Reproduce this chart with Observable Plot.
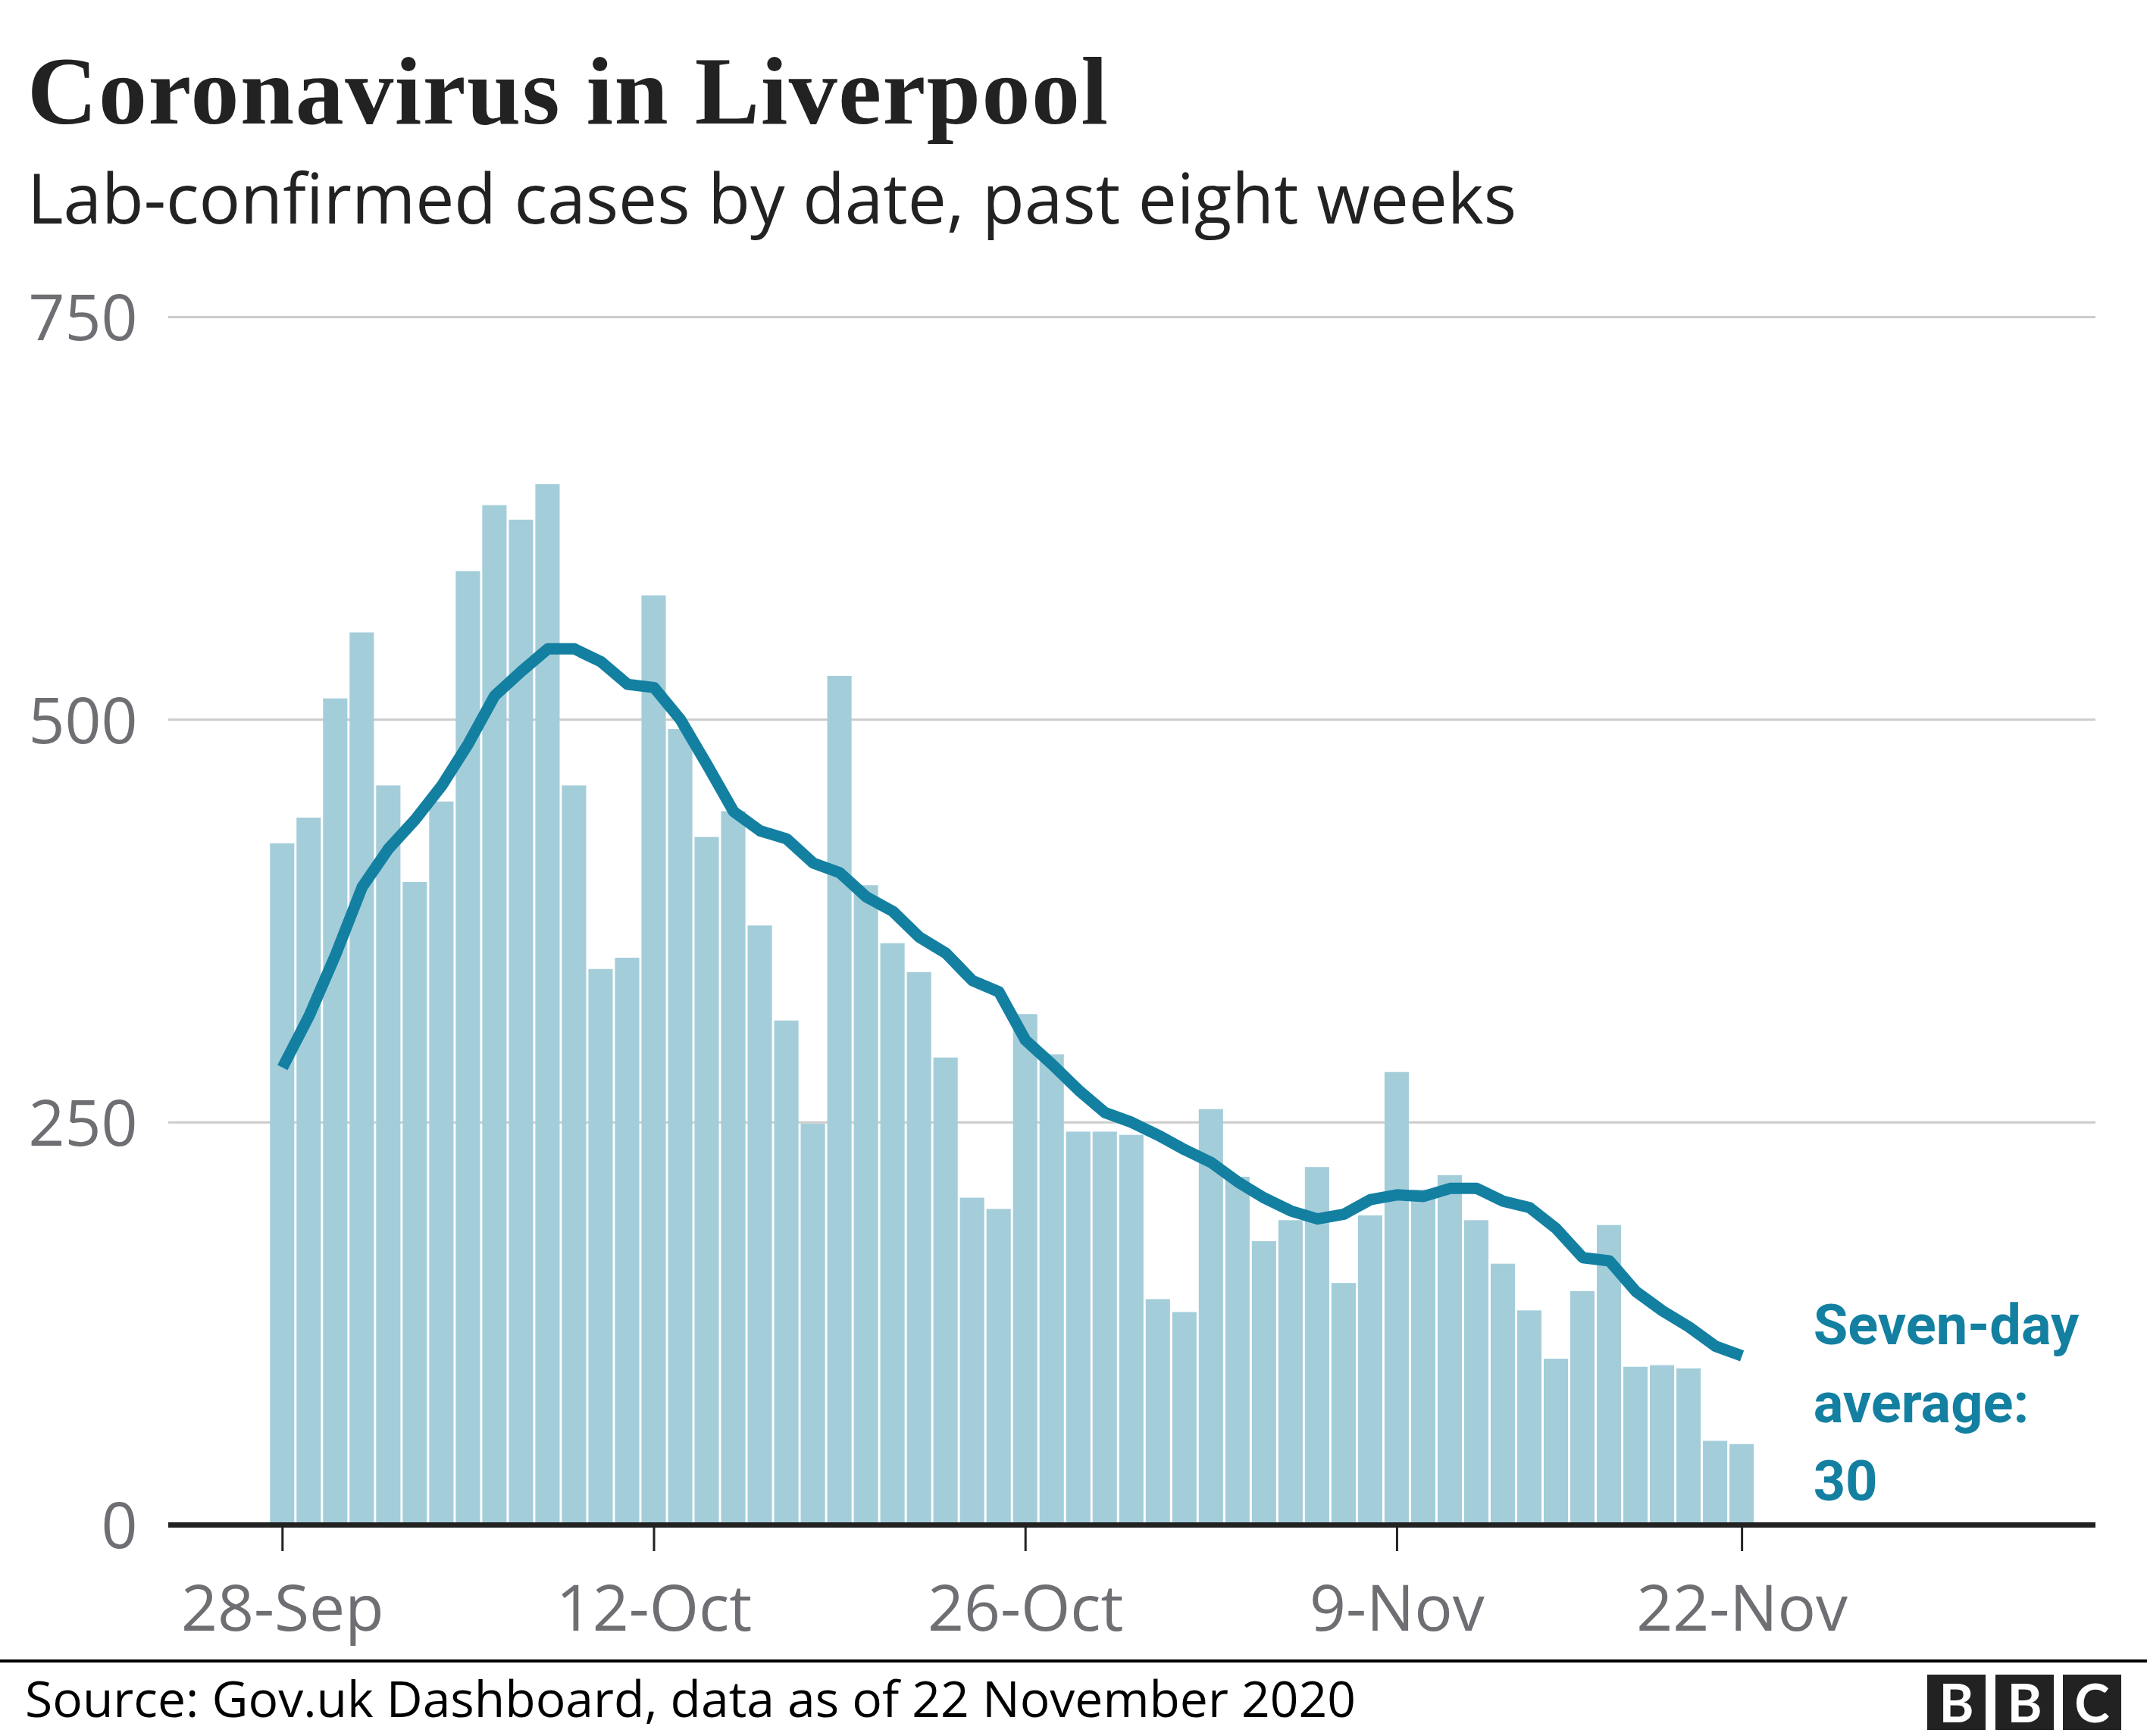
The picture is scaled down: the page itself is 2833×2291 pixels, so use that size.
<!DOCTYPE html>
<html>
<head>
<meta charset="utf-8">
<script src="https://cdn.jsdelivr.net/npm/d3@7"></script>
<script src="https://cdn.jsdelivr.net/npm/@observablehq/plot@0.6"></script>
<style>
  html, body { margin: 0; padding: 0; background: #fff; }
  #page { position: relative; width: 2833px; height: 2291px; overflow: hidden; background: #fff; }
  #title { position: absolute; left: 36px; top: 56px; font-family: "Liberation Serif", serif; font-weight: bold; font-size: 128px; line-height: 128px; letter-spacing: 1.5px; color: #222; white-space: nowrap; }
  #subtitle { position: absolute; left: 36px; top: 215px; font-family: "Open Sans", sans-serif; font-size: 91px; line-height: 91px; color: #222; white-space: nowrap; }
  #chart { position: absolute; left: 0; top: 310px; }
  #rule { position: absolute; left: 0; top: 2190px; width: 2833px; height: 4px; background: #000; }
  #source { position: absolute; left: 33px; top: 2207px; font-family: "Open Sans", sans-serif; font-size: 66px; line-height: 66px; color: #000; white-space: nowrap; }
  .bbc { position: absolute; top: 2210px; width: 77px; height: 73px; background: #222; color: #fff; font-family: Lato, sans-serif; font-weight: bold; font-size: 70px; line-height: 73px; text-align: center; }
</style>
</head>
<body>
<div id="page">
  <div id="title"></div>
  <div id="subtitle"></div>
  <div id="chart"></div>
  <div id="rule"></div>
  <div id="source"></div>
  <div class="bbc" style="left:2543px">B</div>
  <div class="bbc" style="left:2633px">B</div>
  <div class="bbc" style="left:2722px">C</div>
</div>
<script>
// ---- Data ----
const titleText = "Coronavirus in Liverpool";
const subtitleText = "Lab-confirmed cases by date, past eight weeks";
const sourceText = "Source: Gov.uk Dashboard, data as of 22 November 2020";
const firstDay = "2020-09-28";
const dailyCases = [423,439,513,554,459,399,449,592,633,624,
                    646,459,345,352,577,494,427,443,372,313,
                    249,527,397,361,343,290,203,196,317,292,
                    244,244,242,140,132,258,216,176,189,222,
                    150,192,281,208,217,189,162,133,103,145,
                    186,98,99,97,52,50];
const sevenDayAvg = [284,316,354,396,420,438,459,485,515,530,
                     544,544,536,522,520,500,472,443,431,426,
                     411,405,390,381,365,355,338,331,301,286,
                     270,256,250,242,233,225,213,203,195,190,
                     193,202,205,204,209,209,201,197,184,166,
                     164,145,133,123,111,105];
const xTickDates = ["2020-09-28","2020-10-12","2020-10-26","2020-11-09","2020-11-22"];
const yTicks = [0, 250, 500, 750];
const avgLabel = ["Seven-day", "average:", "30"];

// ---- Build table ----
const start = new Date(firstDay + "T00:00:00Z");
const data = dailyCases.map((c, i) => ({
  date: d3.utcDay.offset(start, i),
  cases: c,
  avg: sevenDayAvg[i]
}));
const last = data[data.length - 1];

document.getElementById("title").textContent = titleText;
document.getElementById("subtitle").textContent = subtitleText;
document.getElementById("source").textContent = sourceText;

const fmt = d3.utcFormat("%-d-%b");

const chart = Plot.plot({
  width: 2833,
  height: 1870,
  marginLeft: 222,
  marginRight: 68,
  marginTop: 108,
  marginBottom: 168,
  style: { fontFamily: "'Open Sans', sans-serif", fontSize: "84px", background: "transparent", overflow: "visible" },
  x: { type: "utc", domain: [d3.utcHour.offset(data[0].date, -103), d3.utcHour.offset(last.date, 320)] },
  y: { domain: [0, 750] },
  marks: [
    Plot.ruleY(yTicks.filter(d => d > 0), { stroke: "#cccccc", strokeWidth: 3 }),
    Plot.rectY(data, {
      x1: d => d3.utcHour.offset(d.date, -11),
      x2: d => d3.utcHour.offset(d.date, 11),
      y1: 0,
      y2: "cases",
      fill: "#a4cdda"
    }),
    Plot.ruleY([0], { stroke: "#222", strokeWidth: 7 }),
    Plot.lineY(data, { x: "date", y: "avg", stroke: "#1380a1", strokeWidth: 15, strokeLinecap: "butt", strokeLinejoin: "round" }),
    Plot.text([last], {
      x: "date", y: "avg",
      text: () => avgLabel.join("\n"),
      textAnchor: "start",
      lineAnchor: "top",
      lineHeight: 1.39,
      dx: 94, dy: -88,
      fill: "#1380a1",
      fontWeight: "bold",
      fontFamily: "Roboto, sans-serif",
      fontSize: 74
    }),
    Plot.axisY({ ticks: yTicks, tickSize: 0, tickPadding: 41, dy: 4, fill: "#6e6e73", label: null, fontSize: 84 }),
    Plot.axisX({ ticks: xTickDates.map(s => new Date(s + "T00:00:00Z")), tickFormat: fmt, tickSize: 35, tickPadding: 45, stroke: "#222", strokeWidth: 3, fill: "#6e6e73", label: null, fontSize: 84 })
  ]
});
document.getElementById("chart").appendChild(chart);
</script>
</body>
</html>
